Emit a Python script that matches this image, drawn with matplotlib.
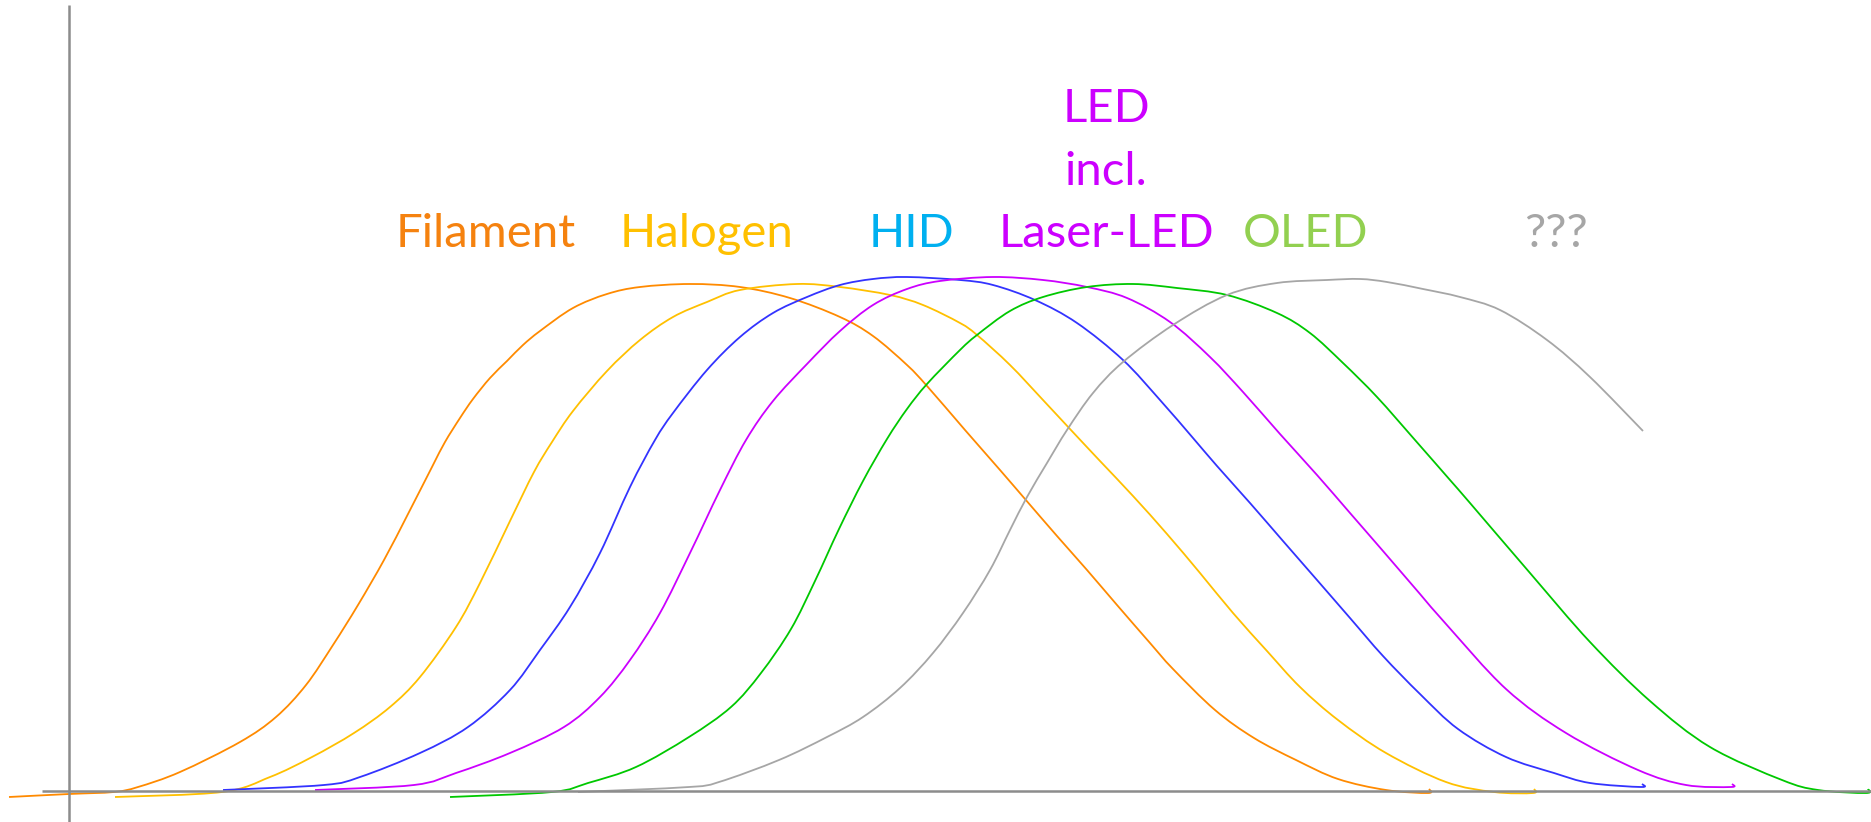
import matplotlib
matplotlib.use("Agg")
import numpy as np
import matplotlib.pyplot as plt
from matplotlib.path import Path
from matplotlib.patches import PathPatch

# technology life cycles (x = time, y = market share, arbitrary units)
filament_x = [-60, 0, 45, 69, 111, 171, 207, 237, 264, 289, 315, 339, 363, 376, 391, 404, 421, 438,
              454, 471, 504, 538, 571, 621, 671, 721, 771, 804, 838, 858, 896, 931, 956, 988,
              1018, 1048, 1081, 1104, 1146, 1185, 1227, 1269, 1317, 1359, 1360]
filament_y = [-6, -3, -1, 4, 19, 49, 74, 106, 146, 186, 231, 277, 324, 349, 373, 392, 413, 430,
              446, 460, 483, 497, 504, 507, 504, 493, 474, 455, 426, 405, 361, 321, 292, 255,
              221, 186, 148, 122, 81, 53, 31, 12, 1, -2, 2]

halogen_x = [46, 153, 201, 243, 285, 321, 351, 387, 411, 441, 465, 483, 504, 538, 571, 604, 638, 671,
             728, 771, 821, 854, 891, 908, 941, 974, 1001, 1031, 1064, 1098, 1131, 1164, 1198,
             1231, 1269, 1317, 1377, 1425, 1464, 1465]
halogen_y = [-6, -1, 14, 34, 58, 84, 114, 164, 208, 270, 319, 349, 380, 420, 451, 474, 489, 501,
             507, 504, 496, 486, 468, 456, 426, 391, 362, 330, 295, 257, 218, 178, 140,
             104, 71, 38, 9, -1, -2, 2]

hid_x = [154, 255, 291, 351, 399, 441, 471, 501, 531, 561, 586, 604, 638, 671, 704, 738, 771, 804,
         838, 891, 924, 966, 1008, 1054, 1091, 1124, 1148, 1181, 1214, 1248, 1281, 1314, 1351,
         1389, 1437, 1485, 1521, 1572, 1573]
hid_y = [1, 6, 14, 38, 64, 101, 141, 184, 238, 304, 351, 378, 421, 454, 478, 494, 506, 512,
         514, 511, 506, 491, 468, 431, 391, 353, 325, 288, 250, 211, 173, 135, 97,
         62, 34, 18, 8, 4, 7]

led_x = [246, 345, 387, 441, 495, 531, 561, 591, 621, 651, 677, 704, 738, 771, 804, 838, 871, 924,
         974, 1018, 1058, 1101, 1141, 1174, 1211, 1248, 1281, 1314, 1351, 1377, 1437, 1497,
         1569, 1617, 1662, 1663]
led_y = [1, 6, 18, 38, 64, 94, 131, 178, 238, 301, 351, 390, 427, 460, 486, 502, 510, 514,
         511, 504, 493, 469, 434, 399, 357, 316, 278, 240, 197, 167, 102, 58,
         21, 6, 4, 7]

oled_x = [381, 483, 519, 567, 620, 662, 692, 722, 746, 770, 794, 818, 838, 858, 891, 908, 941, 974,
          1018, 1064, 1108, 1158, 1208, 1241, 1274, 1308, 1346, 1381, 1401, 1461, 1521, 1581,
          1641, 1713, 1749, 1797, 1799]
oled_y = [-6, -1, 8, 24, 54, 84, 118, 162, 210, 262, 310, 352, 382, 407, 441, 456, 480, 494,
          504, 507, 503, 496, 478, 458, 428, 394, 351, 311, 288, 218, 149, 90,
          44, 11, 1, -2, 2]

next_x = [509, 620, 650, 710, 758, 794, 831, 864, 894, 921, 941, 958, 978, 998, 1024, 1054, 1104,
          1158, 1208, 1258, 1291, 1318, 1354, 1391, 1431, 1478, 1521, 1574]
next_y = [-1, 4, 9, 31, 54, 74, 103, 138, 178, 221, 261, 294, 328, 361, 398, 429, 466,
          496, 508, 511, 512, 509, 502, 494, 481, 451, 414, 360]

line_colors = ['#FF8A00', '#FFC000', '#3333FF', '#CC00FF', '#00C800', '#A6A6A6']

labels = ['Filament', 'Halogen', 'HID', 'LED\nincl.\nLaser-LED', 'OLED', '???']
label_colors = ['#F5820F', '#FFC000', '#00B0F0', '#CC00FF', '#92D050', '#A6A6A6']
label_x = [417, 638, 842, 1037, 1237, 1487]
label_y = 544

series = [(filament_x, filament_y), (halogen_x, halogen_y), (hid_x, hid_y),
          (led_x, led_y), (oled_x, oled_y), (next_x, next_y)]


def smooth_path(xs, ys):
    # draw the read points as a smooth bezier curve (catmull-rom style)
    pts = np.column_stack([xs, ys]).astype(float)
    verts = [pts[0]]
    codes = [Path.MOVETO]
    n = len(pts)
    for i in range(n - 1):
        p0 = pts[max(i - 1, 0)]
        p1 = pts[i]
        p2 = pts[i + 1]
        p3 = pts[min(i + 2, n - 1)]
        verts += [p1 + (p2 - p0) / 6, p2 - (p3 - p1) / 6, p2]
        codes += [Path.CURVE4] * 3
    return Path(verts, codes)


fig = plt.figure(figsize=(18.71, 8.22), dpi=100)
ax = fig.add_axes([0, 0, 1, 1])
ax.set_xlim(-69, 1802)
ax.set_ylim(-31, 791)
ax.axis('off')

# axes drawn as plain grey lines
ax.plot([0, 0], [-31, 786], color='#8C8C8C', lw=1.8, solid_capstyle='butt')
ax.plot([-27, 1802], [0, 0], color='#8C8C8C', lw=1.8, solid_capstyle='butt')

for (xs, ys), c in zip(series, line_colors):
    ax.add_patch(PathPatch(smooth_path(xs, ys), facecolor='none', edgecolor=c,
                           lw=1.3, joinstyle='round'))

for txt, c, x in zip(labels, label_colors, label_x):
    ax.text(x, label_y, txt, color=c, fontsize=34, family='Lato',
            ha='center', va='baseline', multialignment='center', linespacing=1.6)

fig.savefig('out.png', dpi=100)
